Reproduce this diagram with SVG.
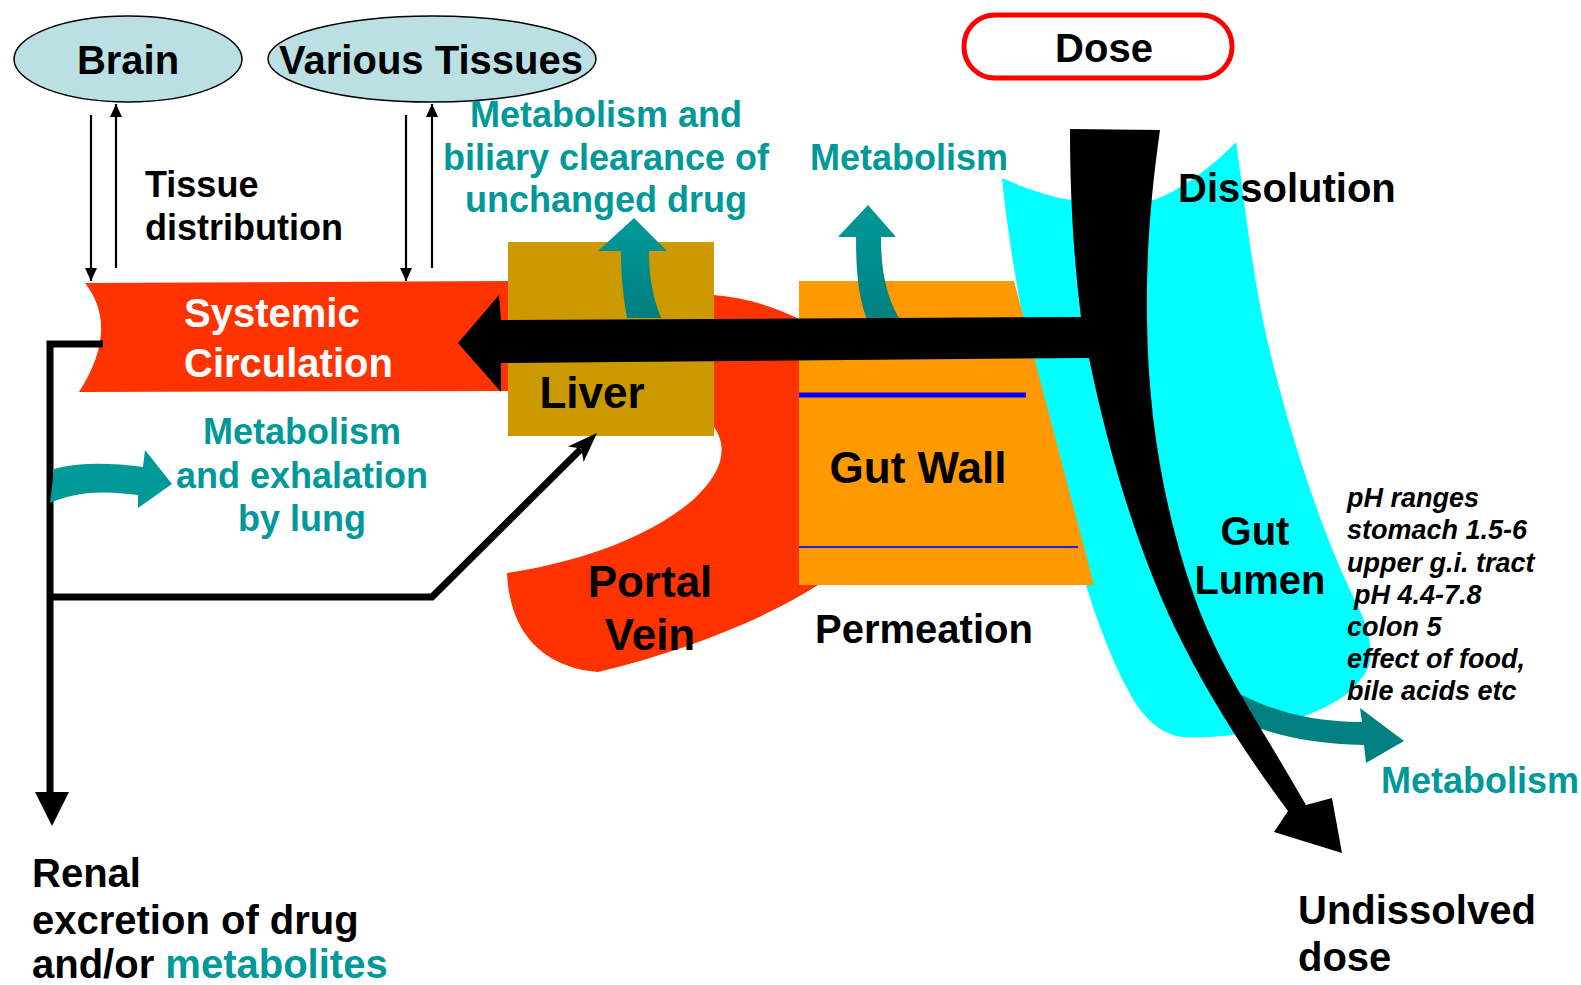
<svg xmlns="http://www.w3.org/2000/svg" width="1581" height="985" viewBox="0 0 1581 985">
<style>
text{font-family:"Liberation Sans",Arial,sans-serif;font-weight:bold;}
.blk{fill:#000;font-size:40px;}
.big{fill:#000;font-size:44px;}
.teal{fill:#009999;font-size:36px;}
.wht{fill:#fff;font-size:40px;}
.ph{fill:#000;font-size:27px;font-style:italic;}
.ell{fill:#BBE0E3;stroke:#000;stroke-width:1.5;}
.thin{stroke:#000;stroke-width:2.2;fill:none;}
.thick{stroke:#000;stroke-width:7;fill:none;}
</style>
<defs>
<marker id="ah" markerUnits="userSpaceOnUse" markerWidth="14" markerHeight="12" refX="13" refY="6" orient="auto">
<path d="M0,0 L13,6 L0,12 Z" fill="#000"/>
</marker>
<linearGradient id="tg" x1="0" y1="0" x2="0" y2="1">
<stop offset="0" stop-color="#009999"/>
<stop offset="1" stop-color="#007F7F"/>
</linearGradient>
</defs>
<rect width="1581" height="985" fill="#fff"/>

<g id="node-systemic">
<path d="M85,283 L514,281 L514,391 L79,392 Q120,328 85,283 Z" fill="#FF3300"/>
</g>

<g id="node-portal">
<path d="M714,295 C745,298 772,305 805,322 L805,585 L818,585 C760,622 680,652 598,672 C550,668 510,640 507,573 C560,565 640,545 693,500 C720,475 730,450 714,427 Z" fill="#FF3300"/>
</g>

<g id="node-lumen">
<path d="M1002,178 C1020,186 1045,196 1071,200 L1153,200 C1170,196 1210,170 1236,142 C1242,180 1250,260 1265,330 C1285,420 1320,530 1355,600 C1375,640 1375,665 1360,680 C1350,698 1310,718 1260,730 C1230,737 1200,738 1183,737 C1160,735 1140,715 1127,688 C1100,640 1070,540 1051,453 C1030,360 1010,260 1002,178 Z" fill="#00FFFF"/>
</g>

<g id="node-gutwall">
<path d="M799,281 L1014,281 L1094,585 L799,585 Z" fill="#FF9900"/>
<line x1="799" y1="395" x2="1026" y2="395" stroke="#0000FF" stroke-width="5"/>
<line x1="799" y1="547" x2="1078" y2="547" stroke="#2222DD" stroke-width="2"/>
</g>

<g id="node-liver">
<rect x="508" y="242" width="206" height="194" fill="#CC9900"/>
</g>

<g id="connectors">
<line class="thin" x1="91" y1="115" x2="91" y2="281" marker-end="url(#ah)"/>
<line class="thin" x1="116" y1="268" x2="116" y2="104" marker-end="url(#ah)"/>
<line class="thin" x1="406" y1="115" x2="406" y2="281" marker-end="url(#ah)"/>
<line class="thin" x1="432" y1="268" x2="432" y2="104" marker-end="url(#ah)"/>
<path class="thick" d="M103,344 L50,344 L50,796"/>
<path d="M35,792 L69,792 L52,826 Z" fill="#000"/>
<path class="thick" d="M50,597 L432,597 L581,449" stroke-width="6"/>
<path d="M597,433 L583.6,462 L581.4,448.6 L568,446.4 Z" fill="#000"/>
<path d="M50,503 C70,494 95,489 138,495 L138,508 L172,484 L145,450 L143,467 C110,463 80,462 54,469 Z" fill="#009999"/>
<path d="M627,318 C622,290 621,270 621,251 L598,251 L634,218 L667,251 L649,251 C649,275 652,295 661,318 Z" fill="url(#tg)"/>
<path d="M869,324 C858,300 856,270 856,237 L838,237 L868,205 L896,237 L881,237 C881,270 886,300 903,324 Z" fill="url(#tg)"/>
<path d="M1232,690 C1260,705 1300,722 1362,722 L1360,708 L1404,741 L1366,763 L1364,745 C1320,744 1285,738 1256,727 Z" fill="#008080"/>
<path d="M1070,129 L1160,130 C1150,200 1146,260 1147,320 C1148,420 1165,520 1200,612 C1225,675 1260,725 1306,805 L1332,798 L1342,853 L1274,832 L1288,811 C1250,760 1210,700 1175,628 C1140,555 1110,460 1089,358 L501,363 L501,392 L458,343 L499,295 L501,320 L1081,317 C1074,260 1070,200 1070,129 Z" fill="#000"/>
</g>

<g id="node-brain">
<ellipse class="ell" cx="128" cy="59" rx="114" ry="43"/>
<text class="blk" x="128" y="74" text-anchor="middle">Brain</text>
</g>
<g id="node-tissues">
<ellipse class="ell" cx="432" cy="59" rx="164" ry="43"/>
<text class="blk" x="431" y="74" text-anchor="middle">Various Tissues</text>
</g>
<g id="node-dose">
<rect x="964" y="15" width="268" height="63" rx="31" fill="#fff" stroke="#FF0000" stroke-width="5"/>
<text class="blk" x="1104" y="62" text-anchor="middle">Dose</text>
</g>

<g id="labels">
<text class="blk" x="145" y="197" style="font-size:36px">Tissue</text>
<text class="blk" x="145" y="240" style="font-size:36px">distribution</text>
<text class="teal" x="606" y="127" text-anchor="middle">Metabolism and</text>
<text class="teal" x="606" y="170" text-anchor="middle">biliary clearance of</text>
<text class="teal" x="606" y="212" text-anchor="middle">unchanged drug</text>
<text class="teal" x="909" y="170" text-anchor="middle">Metabolism</text>
<text class="blk" x="1178" y="202">Dissolution</text>
<text class="wht" x="184" y="327">Systemic</text>
<text class="wht" x="184" y="377">Circulation</text>
<text class="big" x="592" y="408" text-anchor="middle">Liver</text>
<text class="big" x="918" y="483" text-anchor="middle">Gut Wall</text>
<text class="big" x="650" y="597" text-anchor="middle">Portal</text>
<text class="big" x="650" y="650" text-anchor="middle">Vein</text>
<text class="blk" x="924" y="643" text-anchor="middle">Permeation</text>
<text class="teal" x="302" y="444" text-anchor="middle">Metabolism</text>
<text class="teal" x="302" y="488" text-anchor="middle">and exhalation</text>
<text class="teal" x="302" y="531" text-anchor="middle">by lung</text>
<text class="blk" x="1255" y="545" text-anchor="middle">Gut</text>
<text class="blk" x="1260" y="594" text-anchor="middle">Lumen</text>
<text class="ph" x="1347" y="507">pH ranges</text>
<text class="ph" x="1347" y="539">stomach 1.5-6</text>
<text class="ph" x="1347" y="572">upper g.i. tract</text>
<text class="ph" x="1354" y="604">pH 4.4-7.8</text>
<text class="ph" x="1347" y="636">colon 5</text>
<text class="ph" x="1347" y="668">effect of food,</text>
<text class="ph" x="1347" y="700">bile acids etc</text>
<text class="teal" x="1381" y="793">Metabolism</text>
<text class="blk" x="1298" y="924">Undissolved</text>
<text class="blk" x="1298" y="971">dose</text>
<text class="blk" x="32" y="887">Renal</text>
<text class="blk" x="32" y="934">excretion of drug</text>
<text class="blk" x="32" y="978">and/or <tspan fill="#009999">metabolites</tspan></text>
</g>
</svg>
